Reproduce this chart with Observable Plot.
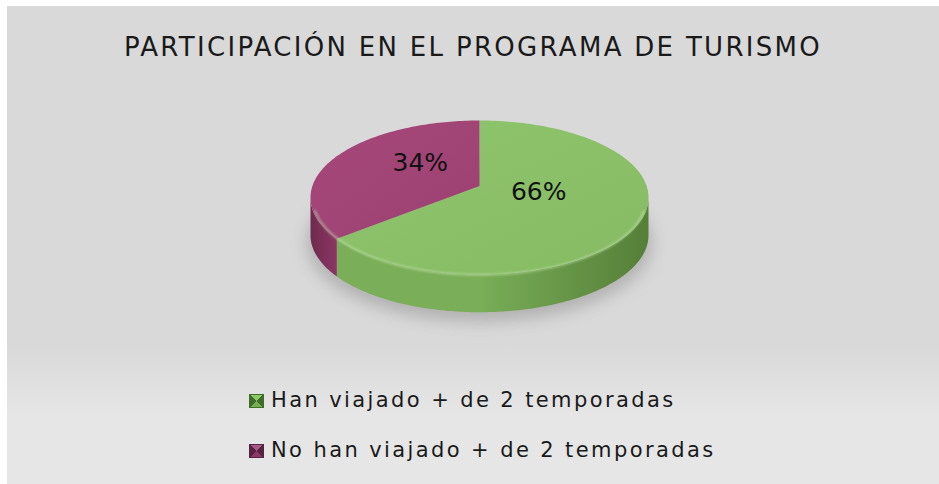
<!DOCTYPE html>
<html>
<head>
<meta charset="utf-8">
<script src="https://cdn.jsdelivr.net/npm/d3@7"></script>
<script src="https://cdn.jsdelivr.net/npm/@observablehq/plot@0.6"></script>
<style>
  html, body { margin: 0; padding: 0; background: #ffffff; }
  #panel {
    position: absolute; left: 7px; top: 6px; width: 932px; height: 478px;
    background: linear-gradient(to bottom, #d9d9d9 0px, #d9d9d9 340px, #e6e6e6 410px, #e6e6e6 478px);
    font-family: "DejaVu Sans", Verdana, sans-serif; color: #111;
    overflow: hidden;
  }
  #title {
    position: absolute; left: 0; width: 932px; top: 26px; line-height: 30px;
    text-align: center; font-size: 26px; letter-spacing: 2.3px; color: #1a1a1a;
  }
  #chart { position: absolute; left: 0; top: 0; }
  .row { position: absolute; left: 242px; height: 26px; line-height: 26px; font-size: 21px; letter-spacing: 2.4px; white-space: nowrap; color: #1a1a1a; }
  .sw { display: inline-block; width: 15px; height: 14px; margin-right: 7px; vertical-align: -1px; box-sizing: border-box; }
</style>
</head>
<body>
<div id="panel">
  <div id="title"></div>
  <div id="chart"></div>
  <div id="legend"></div>
</div>
<script>
// ---- data ----
const title = "PARTICIPACIÓN EN EL PROGRAMA DE TURISMO";
const categories = ["Han viajado + de 2 temporadas", "No han viajado + de 2 temporadas"];
const values = [66, 34];
const labels = ["66%", "34%"];
const topColors = ["#8fc56c", "#a6477a"];
const topColors2 = ["#86bb63", "#9c4172"];
const sideColors = ["#7aae58", "#8c3664"];
const sideDark = ["#557f38", "#6e2a4e"];
const swLight = ["#8cc96a", "#a55a85"];
const swMid = ["#74b050", "#8a3a66"];
const swDark = ["#3f6e2a", "#5a2242"];

// ---- layout parameters ----
const depth = 0.49;       // side thickness in radius-y units
const vy = -0.15;         // apex offset (perspective)
const labelR = 0.4;
const labelVy = -0.26;

document.getElementById("title").textContent = title;

const pie = d3.pie().sort(null).value(d => d)(values);
const deg = Math.PI / 180;
const pt = a => [Math.sin(a), -Math.cos(a)];

function arcPts(a0, a1) {
  const n = Math.max(2, Math.ceil((a1 - a0) / deg));
  return d3.range(n + 1).map(i => pt(a0 + (a1 - a0) * i / n));
}

const topPolys = pie.map((p, i) => {
  const pts = [[0, vy], ...arcPts(p.startAngle, p.endAngle), [0, vy]];
  return pts.map(([x, y]) => ({k: i, x, y}));
});

const sidePolys = pie.map((p, i) => {
  const a0 = Math.max(p.startAngle, Math.PI / 2);
  const a1 = Math.min(p.endAngle, 3 * Math.PI / 2);
  if (a1 <= a0) return [];
  const upper = arcPts(a0, a1);
  const lower = upper.slice().reverse().map(([x, y]) => [x, y + depth]);
  return [...upper, ...lower].map(([x, y]) => ({k: i, x, y}));
});

const shadow = arcPts(0, 2 * Math.PI).map(([x, y]) => ({x: x * 1.02, y: y * 1.02 + depth + 0.1}));
const rim = arcPts(Math.PI * 0.55, Math.PI * 1.45).map(([x, y]) => ({x: x * 0.985, y: y * 0.985 + 0.02}));

const labelData = pie.map((p, i) => {
  const m = (p.startAngle + p.endAngle) / 2;
  return {x: labelR * Math.sin(m), y: labelVy - labelR * Math.cos(m), t: labels[i]};
});

const marks = [
  Plot.line(shadow, {x: "x", y: "y", fill: "#8a8a8a", fillOpacity: 0.5, stroke: "none", imageFilter: "blur(8px)"}),
];
pie.forEach((p, i) => {
  if (sidePolys[i].length) marks.push(Plot.line(sidePolys[i], {x: "x", y: "y", fill: `url(#side${i})`, stroke: "none"}));
});
pie.forEach((p, i) => {
  marks.push(Plot.line(topPolys[i], {x: "x", y: "y", fill: `url(#top${i})`, stroke: "none"}));
});
marks.push(Plot.line(rim, {x: "x", y: "y", stroke: "#c8eab0", strokeOpacity: 0.55, strokeWidth: 2, imageFilter: "blur(1px)"}));
marks.push(Plot.text(labelData, {x: "x", y: "y", text: "t", fontSize: 25, fill: "#111", fontFamily: "DejaVu Sans", letterSpacing: "1.5px"}));

const svg = Plot.plot({
  width: 932, height: 478, margin: 0,
  x: {domain: [-1, 1], range: [303, 641], axis: null},
  y: {domain: [-1, 1], range: [114, 268], axis: null},
  style: {background: "transparent", overflow: "visible"},
  marks
});

const defs = d3.select(svg).insert("defs", ":first-child");
pie.forEach((p, i) => {
  const gt = defs.append("linearGradient").attr("id", `top${i}`)
    .attr("x1", 0).attr("y1", 0).attr("x2", 1).attr("y2", 1);
  gt.append("stop").attr("offset", "0%").attr("stop-color", topColors[i]);
  gt.append("stop").attr("offset", "100%").attr("stop-color", topColors2[i]);
  const gs = defs.append("linearGradient").attr("id", `side${i}`)
    .attr("x1", 0).attr("y1", 0).attr("x2", 1).attr("y2", 0);
  if (i === 0) {
    gs.append("stop").attr("offset", "0%").attr("stop-color", sideColors[i]);
    gs.append("stop").attr("offset", "45%").attr("stop-color", sideColors[i]);
    gs.append("stop").attr("offset", "100%").attr("stop-color", sideDark[i]);
  } else {
    gs.append("stop").attr("offset", "0%").attr("stop-color", sideDark[i]);
    gs.append("stop").attr("offset", "100%").attr("stop-color", sideColors[i]);
  }
});
document.getElementById("chart").appendChild(svg);

// ---- legend ----
const legend = document.getElementById("legend");
const rowTops = [381, 431];
categories.forEach((c, i) => {
  const row = document.createElement("div");
  row.className = "row";
  row.style.top = rowTops[i] + "px";
  const sw = document.createElement("span");
  sw.className = "sw";
  sw.style.background = `conic-gradient(from -45deg, ${swLight[i]} 0deg 90deg, ${swDark[i]} 90deg 180deg, ${swMid[i]} 180deg 270deg, ${swDark[i]} 270deg 360deg)`;
  sw.style.border = `1px solid ${swDark[i]}`;
  row.appendChild(sw);
  row.appendChild(document.createTextNode(c));
  legend.appendChild(row);
});
</script>
</body>
</html>
